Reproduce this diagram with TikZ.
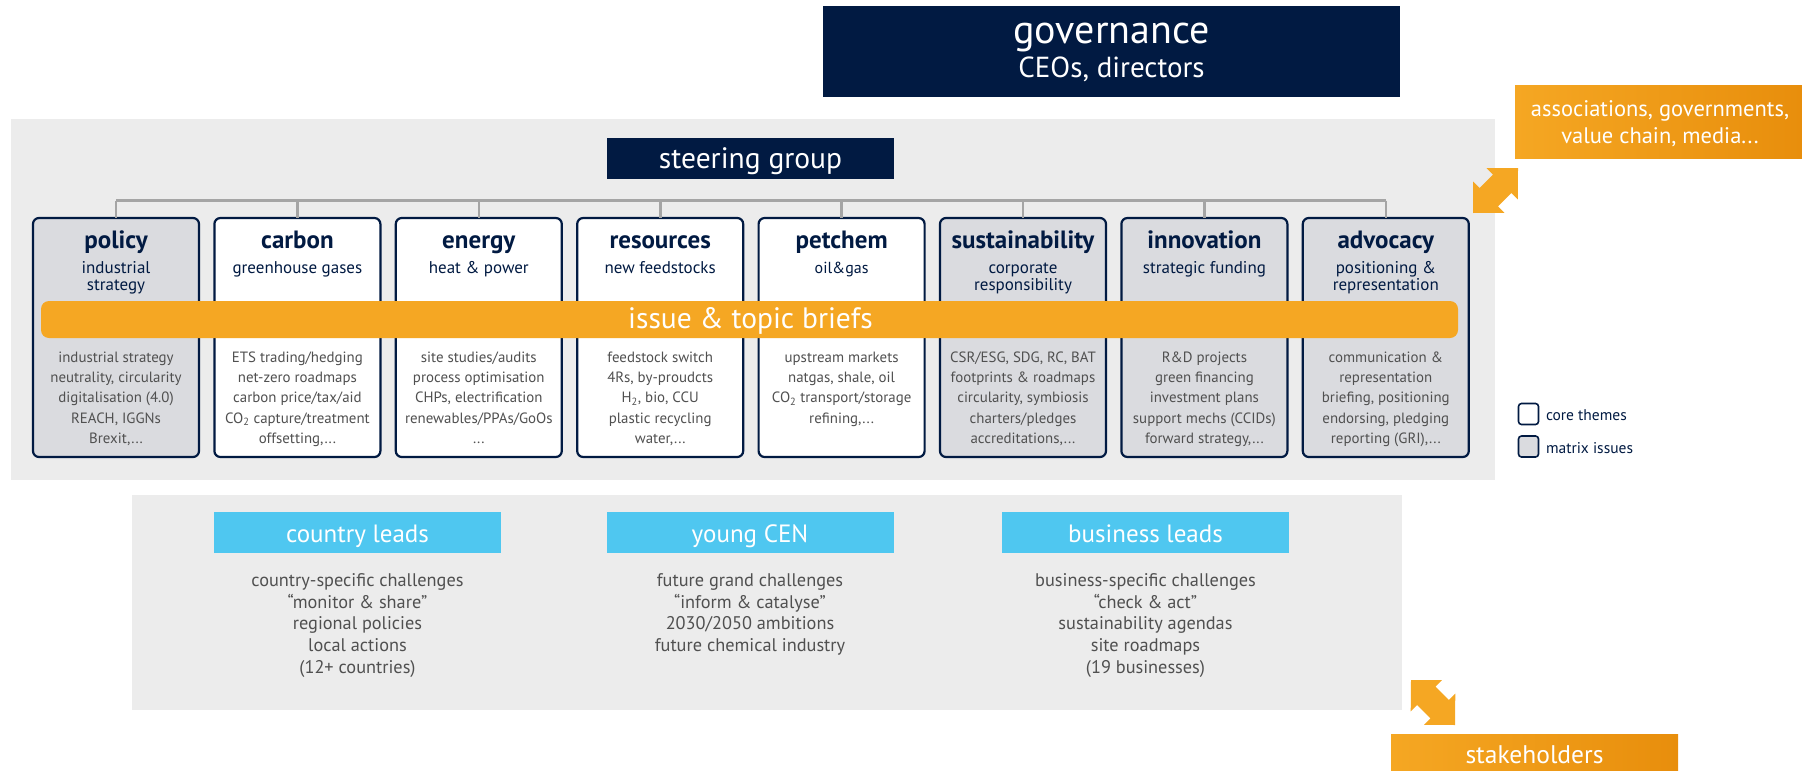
\documentclass[tikz,border=0pt]{standalone}
\usepackage{fontspec}
\setmainfont{PT Sans}
\usetikzlibrary{calc}
\definecolor{navy}{RGB}{1,26,66}
\definecolor{panelgray}{RGB}{236,236,236}
\definecolor{boxgray}{RGB}{218,219,223}
\definecolor{orangeA}{RGB}{245,167,35}
\definecolor{orangeB}{RGB}{232,142,12}
\definecolor{skyblue}{RGB}{79,199,240}
\definecolor{txtgray}{RGB}{80,80,80}
\definecolor{linegray}{RGB}{165,165,165}
\begin{document}
\begin{tikzpicture}[x=1pt,y=-1pt,
  every node/.style={inner sep=0pt, outer sep=0pt},
  darkbox/.style={fill=navy, draw=none},
  theme/.style={draw=navy, line width=2.2pt, rounded corners=6pt, minimum width=166pt, minimum height=239pt},
  ttl/.style={font=\fontsize{25}{27}\selectfont\bfseries, text=navy, anchor=base},
  sub/.style={font=\fontsize{17}{17.4}\selectfont, text=navy, anchor=base, align=center},
  det/.style={font=\fontsize{14.9}{20.3}\selectfont, text=txtgray, anchor=base, align=center},
  conn/.style={draw=linegray, line width=2.6pt},
  bluebox/.style={fill=skyblue, minimum width=287pt, minimum height=41pt},
  bluetxt/.style={font=\fontsize{25}{27}\selectfont, text=white, anchor=base},
  lowtxt/.style={font=\fontsize{18.3}{21.6}\selectfont, text=txtgray, anchor=base, align=center},
  legsq/.style={draw=navy, line width=1.6pt, rounded corners=3pt, minimum width=20pt, minimum height=21pt},
  legtxt/.style={font=\fontsize{15.5}{17}\selectfont, text=navy, anchor=base west},
  orangebox/.style={left color=orangeA, right color=orangeB, draw=none},
]
\useasboundingbox (0,0) rectangle (1802,771);

% governance
\node[darkbox, minimum width=577pt, minimum height=91pt] (gov) at (1111.5,51.5) {};
\node[font=\fontsize{40}{42}\selectfont, text=white, anchor=base] (govt) at (1111.5,43.3) {governance};
\node[font=\fontsize{29}{31}\selectfont, text=white, anchor=base] (govs) at (1111.5,77.3) {CEOs, directors};

% stakeholder box top right
\node[orangebox, minimum width=287pt, minimum height=73pt] (assoc) at (1658.5,121.5) {};
\node[font=\fontsize{22.5}{26.6}\selectfont, text=white, anchor=base, align=center] (assoct) at (1660,143.3) {associations, governments,\\value chain, media...};

% main panel
\fill[panelgray] (11,119) rectangle (1495,480);

% steering group
\node[darkbox, minimum width=287pt, minimum height=41pt] (steer) at (750.5,158.5) {};
\node[font=\fontsize{29.5}{31}\selectfont, text=white, anchor=base] (steert) at (750.5,168.3) {steering group};

% theme boxes
\node[theme, fill=boxgray] (b0) at (116,337.5) {};
\node[theme, fill=white]   (b1) at (297.4,337.5) {};
\node[theme, fill=white]   (b2) at (478.8,337.5) {};
\node[theme, fill=white]   (b3) at (660.2,337.5) {};
\node[theme, fill=white]   (b4) at (841.6,337.5) {};
\node[theme, fill=boxgray] (b5) at (1023,337.5) {};
\node[theme, fill=boxgray] (b6) at (1204.4,337.5) {};
\node[theme, fill=boxgray] (b7) at (1385.8,337.5) {};

% connectors
\foreach \i in {0,...,7}{
  \coordinate (bar\i) at ($(b\i.north)+(0,-17.3)$);
}
\draw[conn] (bar0) -- (bar7);
\foreach \i in {0,...,7}{
  \draw[conn] (bar\i) -- (b\i.north);
}

% titles
\node[ttl] (t0) at (116,248.5) {policy};
\node[ttl] (t1) at (297.4,248.5) {carbon};
\node[ttl] (t2) at (478.8,248.5) {energy};
\node[ttl] (t3) at (660.2,248.5) {resources};
\node[ttl] (t4) at (841.6,248.5) {petchem};
\node[ttl] (t5) at (1023,248.5) {sustainability};
\node[ttl] (t6) at (1204.4,248.5) {innovation};
\node[ttl] (t7) at (1385.8,248.5) {advocacy};

% subtitles (base = last line)
\node[sub] (s0) at (116,290.7) {industrial\\strategy};
\node[sub] (s1) at (297.4,273.3) {greenhouse gases};
\node[sub] (s2) at (478.8,273.3) {heat \& power};
\node[sub] (s3) at (660.2,273.3) {new feedstocks};
\node[sub, font=\fontsize{16}{17.4}\selectfont] (s4) at (841.6,273.3) {oil\&gas};
\node[sub] (s5) at (1023,290.7) {corporate\\responsibility};
\node[sub] (s6) at (1204.4,273.3) {strategic funding};
\node[sub] (s7) at (1385.8,290.7) {positioning \&\\representation};

% issue band
\node[fill=orangeA, rounded corners=8pt, minimum width=1417pt, minimum height=37pt] (band) at (749.5,319.5) {};
\node[font=\fontsize{29.5}{31}\selectfont, text=white, anchor=base] (bandt) at (750.5,328.3) {issue \& topic briefs};

% details (base = last line)
\node[det] (d0) at (116,443.5) {industrial strategy\\neutrality, circularity\\digitalisation (4.0)\\REACH, IGGNs\\Brexit,...};
\node[det] (d1) at (297.4,443.5) {ETS trading/hedging\\net-zero roadmaps\\carbon price/tax/aid\\CO\textsubscript{2} capture/treatment\\offsetting,...};
\node[det] (d2) at (478.8,443.5) {site studies/audits\\process optimisation\\CHPs, electrification\\renewables/PPAs/GoOs\\...};
\node[det] (d3) at (660.2,443.5) {feedstock switch\\4Rs, by-proudcts\\H\textsubscript{2}, bio, CCU\\plastic recycling\\water,...};
\node[det] (d4) at (841.6,423.2) {upstream markets\\natgas, shale, oil\\CO\textsubscript{2} transport/storage\\refining,...};
\node[det] (d5) at (1023,443.5) {CSR/ESG, SDG, RC, BAT\\footprints \& roadmaps\\circularity, symbiosis\\charters/pledges\\accreditations,...};
\node[det] (d6) at (1204.4,443.5) {R\&D projects\\green financing\\investment plans\\support mechs (CCIDs)\\forward strategy,...};
\node[det] (d7) at (1385.8,443.5) {communication \&\\representation\\briefing, positioning\\endorsing, pledging\\reporting (GRI),...};

% legend
\node[legsq, fill=white] (lcore) at (1528.5,414) {};
\node[legtxt] (lcoret) at (1546,420) {core themes};
\node[legsq, fill=boxgray] (lmat) at (1528.5,446.5) {};
\node[legtxt] (lmatt) at (1546,453) {matrix issues};

% arrow top right
\fill[orangeA] (1518,168) -- (1517.8,199.4) -- (1511.4,193.0) -- (1498.0,206.4) -- (1504.4,212.8) -- (1473,213) -- (1473.2,181.6) -- (1479.6,188.0) -- (1493.0,174.6) -- (1486.6,168.2) -- cycle;

% lower panel
\fill[panelgray] (132,495) rectangle (1402,710);
\node[bluebox] (cl) at (357.5,532.5) {};
\node[bluetxt] (clt) at (357.5,542) {country leads};
\node[bluebox] (yc) at (750,532.5) {};
\node[bluetxt] (yct) at (750,542) {young CEN};
\node[bluebox] (bl) at (1145.5,532.5) {};
\node[bluetxt] (blt) at (1145.5,542) {business leads};

\node[lowtxt] (clx) at (357.5,673.1) {country-specific challenges\\“monitor \& share”\\regional policies\\local actions\\(12+ countries)};
\node[lowtxt] (ycx) at (750,651.5) {future grand challenges\\“inform \& catalyse”\\2030/2050 ambitions\\future chemical industry};
\node[lowtxt] (blx) at (1145.5,673.1) {business-specific challenges\\“check \& act”\\sustainability agendas\\site roadmaps\\(19 businesses)};

% arrow bottom right
\fill[orangeA] (1411,680) -- (1441.9,680.2) -- (1435.5,686.6) -- (1448.9,700.0) -- (1455.3,693.6) -- (1455,725) -- (1424.1,724.8) -- (1430.5,718.4) -- (1417.1,705.0) -- (1410.7,711.4) -- cycle;

% stakeholders
\node[orangebox, minimum width=287pt, minimum height=40pt] (stake) at (1534.5,754) {};
\node[font=\fontsize{25.5}{27}\selectfont, text=white, anchor=base] (staket) at (1534.5,763) {stakeholders};
\end{tikzpicture}
\end{document}
